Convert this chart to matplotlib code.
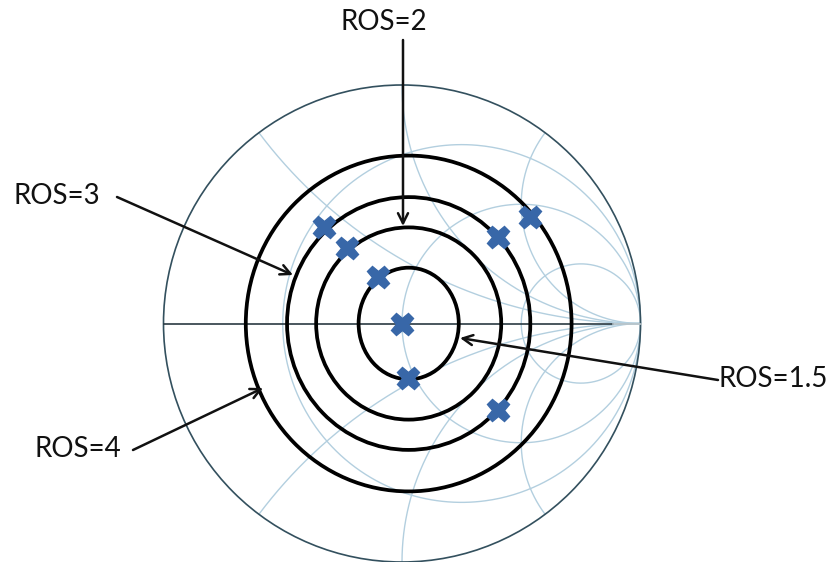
import numpy as np
import matplotlib
matplotlib.use("Agg")
import matplotlib.pyplot as plt
from matplotlib.patches import Ellipse, Circle

# ---- data (reflection-coefficient plane) ----
ros_values = [1.5, 2, 3, 4]
ros_labels = ["ROS=1.5", "ROS=2", "ROS=3", "ROS=4"]
circle_center = (0.028, 0.0)
circle_rx = [0.210, 0.388, 0.510, 0.683]
circle_ry = [0.234, 0.403, 0.530, 0.704]

point_re = [-0.327, -0.232, -0.099, 0.000, 0.026, 0.404, 0.537, 0.404]
point_im = [0.405, 0.315, 0.194, 0.000, -0.230, 0.364, 0.448, -0.363]

grid_r = [1/3, 1, 3]
grid_x = [0.5, 1, 2, -0.5, -1, -2]

# ---- figure ----
W, H = 830, 562
CX, CY, R = 402.0, 323.5, 238.5   # chart centre / radius in pixels
fig = plt.figure(figsize=(W/100, H/100), dpi=100)
ax = fig.add_axes([0, 0, 1, 1])
ax.set_xlim(-CX/R, (W-CX)/R)
ax.set_ylim(-(H-CY)/R, CY/R)
ax.set_aspect('equal')
ax.axis('off')

def P(px, py):
    """pixel position (from top-left) -> chart coordinates"""
    return ((px-CX)/R, (CY-py)/R)

grid_col = '#b3cfdf'

def z2g(z):
    return (z-1)/(z+1)

# constant resistance circles
for r in grid_r:
    xs = np.sinh(np.linspace(-9, 9, 1500))
    g = z2g(r + 1j*xs)
    ax.plot(g.real, g.imag, color=grid_col, lw=1.0, zorder=1)

# constant reactance arcs
for x in grid_x:
    rs = np.concatenate([[0], np.exp(np.linspace(-8, 9, 1500))])
    g = z2g(rs + 1j*x)
    ax.plot(g.real, g.imag, color=grid_col, lw=1.0, zorder=1)

# outer circle and real axis
ax.add_patch(Circle((0, 0), 1.0, fill=False, ec='#33505e', lw=1.2, zorder=2))
ax.plot([-1, 0.885], [0, 0], color='#2a3a42', lw=1.2, zorder=2)
ax.plot([0.885, 1.0], [0, 0], color='#b9c4c9', lw=1.2, zorder=2)

# VSWR circles
for rx, ry in zip(circle_rx, circle_ry):
    ax.add_patch(Ellipse(circle_center, 2*rx, 2*ry, fill=False,
                         ec='black', lw=2.7, zorder=3))

# measured points
ax.plot(point_re, point_im, linestyle='none', marker='X', ms=16,
        mfc='#3867a8', mec='#3867a8', zorder=4)

# labels with arrows
font = dict(family=['Lato', 'DejaVu Sans'], fontsize=20, color='#111111')
arrow = dict(arrowstyle='->', color='#111111', lw=1.8,
             mutation_scale=18, shrinkA=0, shrinkB=0)

ann = {
    "ROS=2":   ((384, 22),  (403, 40),  (403, 226)),
    "ROS=3":   ((57, 196),  (117, 197), (293, 275)),
    "ROS=4":   ((78, 449),  (133, 450), (263, 388)),
    "ROS=1.5": ((773, 379), (718, 380), (460, 338)),
}
for lab in ros_labels:
    (tx, ty), (sx, sy), (ex, ey) = ann[lab]
    ax.text(*P(tx, ty), lab, ha='center', va='center', zorder=5, **font)
    ax.annotate('', xy=P(ex, ey), xytext=P(sx, sy), arrowprops=arrow, zorder=5)

fig.savefig('out.png', dpi=100, facecolor='white')
